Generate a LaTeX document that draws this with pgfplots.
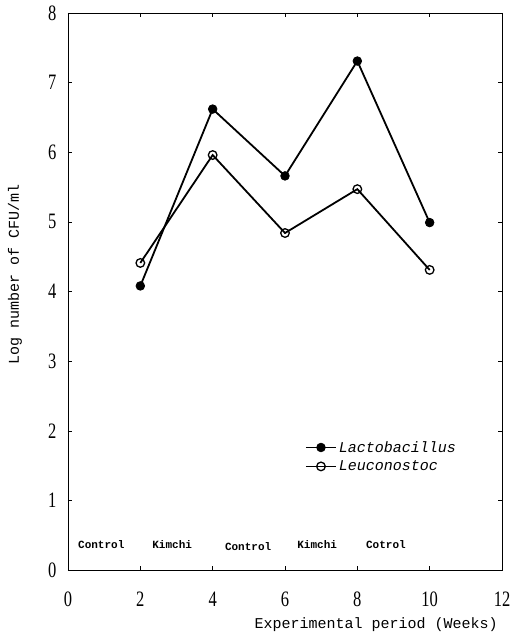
\documentclass[border=0pt]{standalone}
\usepackage{fontspec}
\setmainfont{Liberation Serif}
\setmonofont{Liberation Mono}
\usepackage{graphicx}
\usepackage{pgfplots}
\pgfplotsset{compat=1.18}
\begin{document}
\begin{tikzpicture}
\begin{axis}[
  scale only axis, width=434pt, height=557pt,
  xmin=0, xmax=12, ymin=0, ymax=8,
  xtick={0,2,4,6,8,10,12}, ytick={0,1,2,3,4,5,6,7,8},
  tick align=inside, major tick length=4pt,
  tick style={black, line width=0.5pt},
  axis line style={line width=0.8pt},
  /pgf/number format/assume math mode=true,
  xticklabel={\scalebox{0.75}[1]{\pgfmathprintnumber{\tick}}},
  yticklabel={\scalebox{0.75}[1]{\pgfmathprintnumber{\tick}}},
  ticklabel style={font=\fontsize{22}{23}\selectfont},
  xticklabel style={yshift=-18pt},
  yticklabel style={xshift=-8pt},
  xlabel={Experimental period (Weeks)},
  xlabel style={font=\ttfamily\fontsize{15}{16}\selectfont, at={(axis description cs:0.71,0)}, anchor=north, yshift=-44pt},
  ylabel={Log number of CFU/ml},
  ylabel style={font=\ttfamily\fontsize{15}{16}\selectfont, at={(axis description cs:-0.122,0.53)}, anchor=center, rotate=0},
  legend style={at={(axis cs:6.55,1.88)}, anchor=north west, draw=none, fill=none,
    font=\ttfamily\itshape\fontsize{15}{16}\selectfont, row sep=3pt, inner sep=0pt},
  legend cell align=left,
  legend image code/.code={\draw[mark repeat=2,mark phase=2] plot coordinates {(0pt,0pt)(15pt,0pt)(30pt,0pt)};},
]
\addplot[black, line width=1.8pt, mark=*, mark size=4.3pt, mark options={fill=black, line width=0.8pt}]
  coordinates {(2,4.08) (4,6.62) (6,5.66) (8,7.31) (10,4.99)};
\addlegendentry{Lactobacillus}
\addplot[black, line width=1.8pt, mark=o, mark size=4.3pt, mark options={fill=white, line width=1.3pt}]
  coordinates {(2,4.41) (4,5.96) (6,4.84) (8,5.47) (10,4.31)};
\addlegendentry{Leuconostoc}
\begin{scope}[every node/.style={font=\ttfamily\bfseries\fontsize{11}{12}\selectfont}]
\node at (axis cs:0.92,0.37) {Control};
\node at (axis cs:2.88,0.37) {Kimchi};
\node at (axis cs:4.98,0.34) {Control};
\node at (axis cs:6.89,0.37) {Kimchi};
\node at (axis cs:8.79,0.37) {Cotrol};
\end{scope}
\end{axis}
\pgfresetboundingbox
\path ([shift={(-68pt,-64pt)}]current axis.south west) rectangle ([shift={(10pt,13pt)}]current axis.north east);
\end{tikzpicture}
\end{document}
